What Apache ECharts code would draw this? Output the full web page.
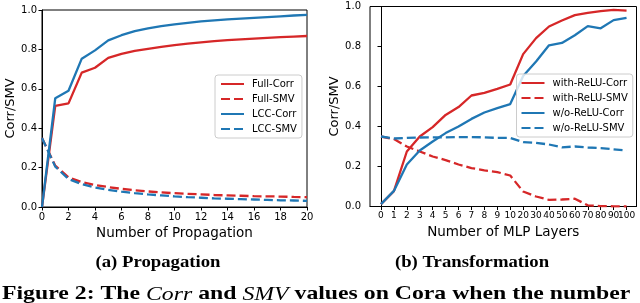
<!DOCTYPE html>
<html>
<head>
<meta charset="utf-8">
<script src="https://cdn.jsdelivr.net/npm/echarts@6/dist/echarts.min.js"></script>
<style>
html,body{margin:0;padding:0;background:#fff;}
#c{width:640px;height:303px;}
</style>
</head>
<body>
<div id="c"></div>
<script>
// ---- Data: (a) Propagation ----
var propSteps = [0,1,2,3,4,5,6,7,8,9,10,11,12,13,14,15,16,17,18,19,20];
var fullCorr = [0.0,0.513,0.526,0.682,0.707,0.757,0.777,0.792,0.803,0.813,0.822,0.829,0.836,0.842,0.847,0.851,0.855,0.859,0.862,0.865,0.868];
var fullSMV  = [0.35,0.21,0.15,0.127,0.112,0.101,0.092,0.085,0.079,0.074,0.070,0.067,0.064,0.061,0.059,0.057,0.055,0.054,0.053,0.051,0.050];
var lccCorr  = [0.0,0.552,0.59,0.753,0.795,0.846,0.872,0.893,0.907,0.918,0.927,0.935,0.942,0.947,0.952,0.956,0.960,0.964,0.968,0.972,0.975];
var lccSMV   = [0.35,0.205,0.142,0.116,0.099,0.087,0.078,0.070,0.064,0.059,0.054,0.050,0.047,0.044,0.042,0.040,0.038,0.036,0.034,0.033,0.031];

// ---- Data: (b) Transformation ----
var mlpLabels = ['0','1','2','3','4','5','6','7','8','9','10','20','30','40','50','60','70','80','90','100'];
var reluCorr   = [0.012,0.077,0.275,0.35,0.397,0.458,0.497,0.555,0.568,0.588,0.61,0.762,0.842,0.90,0.93,0.957,0.968,0.977,0.983,0.979];
var reluSMV    = [0.35,0.337,0.30,0.275,0.25,0.232,0.21,0.192,0.181,0.172,0.155,0.075,0.05,0.033,0.035,0.039,0.006,0.002,0.001,0.0];
var noReluCorr = [0.012,0.078,0.21,0.28,0.325,0.367,0.40,0.438,0.47,0.492,0.512,0.653,0.725,0.806,0.818,0.856,0.902,0.891,0.932,0.943];
var noReluSMV  = [0.35,0.34,0.343,0.345,0.346,0.346,0.347,0.347,0.346,0.343,0.343,0.322,0.318,0.31,0.296,0.30,0.295,0.292,0.286,0.28];

var RED = '#d62728', BLUE = '#1f77b4';
var FONT = 'DejaVu Sans';

function pairs(xs, ys){ return ys.map(function(v,i){ return [xs[i], v]; }); }
var mlpIdx = mlpLabels.map(function(_,i){ return i; });
var mlpEven = mlpIdx.filter(function(i){ return i % 2 === 0; });
var mlpOdd  = mlpIdx.filter(function(i){ return i % 2 === 1; });

function line(name, data, color, dashed, g){
  return {
    type:'line', name:name, data:data, xAxisIndex:g, yAxisIndex:g,
    symbol:'none', smooth:false, animation:false,
    lineStyle:{color:color, width:2.3, type: dashed ? [9,4] : 'solid'},
    itemStyle:{color:color}
  };
}

var axisCommon = {
  axisLine:{show:true, lineStyle:{color:'#000', width:1}},
  axisTick:{show:true, inside:false, length:3.5, lineStyle:{color:'#000', width:1}},
  splitLine:{show:false}
};

function yAx(g, margin){
  return Object.assign({}, JSON.parse(JSON.stringify(axisCommon)), {
    type:'value', gridIndex:g, min:0, max:1, interval:0.2,
    name:'Corr/SMV', nameLocation:'middle', nameGap: g===0 ? 25 : 27,
    nameTextStyle:{fontFamily:FONT, fontSize:13, color:'#000'},
    axisLabel:{fontFamily:FONT, fontSize:10, color:'#000', margin:margin,
      formatter:function(v){ return v.toFixed(1); }}
  });
}

function mlpLabelAxis(vals, withName){
  var ax = {
    type:'value', gridIndex:1, min:-0.85, max:19.77, position:'bottom',
    axisLine:{show: withName, lineStyle:{color:'#000', width:1}},
    axisTick:{show:true, length:3.5, customValues:vals, lineStyle:{color:'#000', width:1}},
    splitLine:{show:false},
    axisLabel:{fontFamily:FONT, fontSize:9, color:'#000', margin:5, customValues:vals,
      hideOverlap:false,
      formatter:function(v){ return mlpLabels[Math.round(v)]; }}
  };
  if (withName) {
    ax.name = 'Number of MLP Layers';
    ax.nameLocation = 'middle';
    ax.nameGap = 18;
    ax.nameTextStyle = {fontFamily:FONT, fontSize:13.5, color:'#000'};
  }
  return ax;
}

var legendCommon = {
  orient:'vertical',
  backgroundColor:'rgba(255,255,255,0.8)', borderColor:'#cccccc', borderWidth:1, borderRadius:3,
  itemWidth:23, itemHeight:10, itemGap:5,
  itemStyle:{color:'rgba(0,0,0,0)', borderWidth:0, opacity:0},
  textStyle:{fontFamily:FONT, fontSize:10, color:'#000', padding:[0,0,0,3]}
};

var option = {
  animation:false,
  backgroundColor:'#fff',
  grid:[
    {left:42, right:333, top:10, bottom:96, show:true, borderColor:'#000', borderWidth:1, containLabel:false},
    {left:370, right:3.5, top:6.5, bottom:96.5, show:true, borderColor:'#000', borderWidth:1, containLabel:false}
  ],
  xAxis:[
    Object.assign({}, JSON.parse(JSON.stringify(axisCommon)), {
      type:'value', gridIndex:0, min:0, max:20, interval:2,
      name:'Number of Propagation', nameLocation:'middle', nameGap:18,
      nameTextStyle:{fontFamily:FONT, fontSize:13.5, color:'#000'},
      axisLabel:{fontFamily:FONT, fontSize:10, color:'#000', margin:5}
    }),
    mlpLabelAxis(mlpEven, true),
    mlpLabelAxis(mlpOdd, false)
  ],
  yAxis:[ yAx(0,5), yAx(1,9) ],
  legend:[
    Object.assign({}, legendCommon, {left:215, top:75, padding:[4,5,4,5],
      data:['Full-Corr','Full-SMV','LCC-Corr','LCC-SMV']}),
    Object.assign({}, legendCommon, {left:516.5, top:74, padding:[4,5,4,4],
      data:['with-ReLU-Corr','with-ReLU-SMV','w/o-ReLU-Corr','w/o-ReLU-SMV']})
  ],
  series:[
    line('Full-Corr', pairs(propSteps, fullCorr), RED, false, 0),
    line('Full-SMV', pairs(propSteps, fullSMV), RED, true, 0),
    line('LCC-Corr', pairs(propSteps, lccCorr), BLUE, false, 0),
    line('LCC-SMV', pairs(propSteps, lccSMV), BLUE, true, 0),
    line('with-ReLU-Corr', pairs(mlpIdx, reluCorr), RED, false, 1),
    line('with-ReLU-SMV', pairs(mlpIdx, reluSMV), RED, true, 1),
    line('w/o-ReLU-Corr', pairs(mlpIdx, noReluCorr), BLUE, false, 1),
    line('w/o-ReLU-SMV', pairs(mlpIdx, noReluSMV), BLUE, true, 1)
  ],
  graphic:[
    {type:'text', x:158, y:271, scaleX:1.07, originX:0, style:{text:'(a) Propagation', fontFamily:'Liberation Serif', fontWeight:'bold', fontSize:17.5, fill:'#000', textAlign:'center', textVerticalAlign:'bottom'}},
    {type:'text', x:472, y:271, scaleX:1.07, originX:0, style:{text:'(b) Transformation', fontFamily:'Liberation Serif', fontWeight:'bold', fontSize:17.5, fill:'#000', textAlign:'center', textVerticalAlign:'bottom'}},
    {type:'text', x:2, y:304, scaleX:1.25, originX:0, style:{
      text:'{b|Figure 2: The }{i|Corr}{b| and }{i|SMV}{b| values on Cora when the number}',
      textVerticalAlign:'bottom',
      rich:{
        b:{fontFamily:'Liberation Serif', fontWeight:'bold', fontSize:19, fill:'#000'},
        i:{fontFamily:'Liberation Serif', fontStyle:'italic', fontSize:19, fill:'#000'}
      }}}
  ]
};

var chart = echarts.init(document.getElementById('c'), null, {renderer:'canvas'});
chart.setOption(option);
</script>
</body>
</html>
